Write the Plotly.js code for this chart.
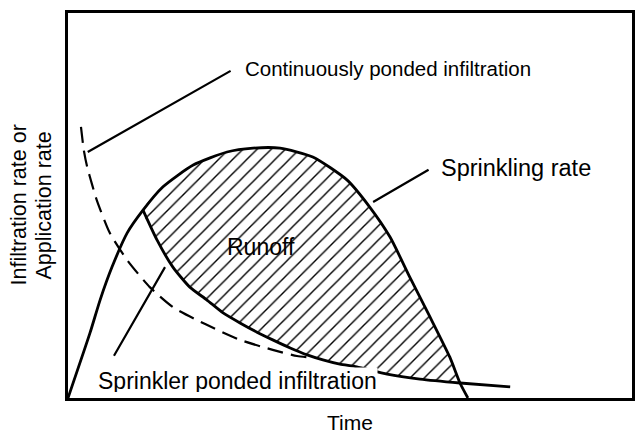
<!DOCTYPE html>
<html>
<head>
<meta charset="utf-8">
<script src="https://cdn.plot.ly/plotly-3.0.1.min.js"></script>
<style>
html,body{margin:0;padding:0;background:#fff;}
#chart{width:635px;height:434px;}
</style>
</head>
<body>
<div id="chart"></div>
<script>
// Schematic values (arbitrary units: time 0-100, rate 0-100)
const sprinklingTime = [0, 3.9, 5.7, 7.8, 10.5, 13.3, 16.8, 22.2, 28.2, 32.8, 37.6, 43.4, 49.5, 53.5, 57.1, 60.6, 64.2, 67.7, 69.5, 70.9];
const sprinklingRate = [0, 16.9, 25.5, 34.0, 42.9, 48.8, 54.8, 60.5, 63.9, 64.9, 64.9, 62.6, 56.6, 49.6, 41.8, 31.4, 21.0, 10.6, 3.9, 0];

const sprinklerPondedTime = [13.3, 15.8, 18.6, 21.6, 24.6, 27.5, 30.5, 33.5, 36.3, 39.4, 42.4, 45.2, 48.2, 51.2, 56.6, 62.4, 69.5, 78.4];
const sprinklerPondedRate = [48.8, 41.0, 34.0, 28.8, 25.5, 22.1, 19.5, 17.1, 15.1, 13.0, 11.2, 9.9, 8.8, 8.1, 6.2, 4.9, 3.9, 2.9];

const continuousPondedTime = [2.3, 2.8, 3.4, 4.3, 5.1, 7.4, 10.5, 14.5, 18.6, 24.6, 30.5, 36.3, 40.6, 42.4];
const continuousPondedRate = [70.4, 64.4, 60.0, 55.3, 51.4, 42.9, 35.8, 28.8, 23.6, 19.0, 15.1, 12.5, 10.9, 10.6];

const labels = {
  continuous: 'Continuously ponded infiltration',
  sprinkling: 'Sprinkling rate',
  runoff: 'Runoff',
  sprinklerPonded: 'Sprinkler ponded infiltration',
  xTitle: 'Time',
  yTitleLines: ['Infiltration rate or', 'Application rate']
};

// Runoff region: between sprinkling rate and sprinkler ponded infiltration
const tStart = sprinklerPondedTime[0];
const tEnd = 69.5;
const upperX = [], upperY = [];
sprinklingTime.forEach((t, i) => { if (t >= tStart && t <= tEnd) { upperX.push(t); upperY.push(sprinklingRate[i]); } });
const lowerX = [], lowerY = [];
sprinklerPondedTime.forEach((t, i) => { if (t <= tEnd) { lowerX.push(t); lowerY.push(sprinklerPondedRate[i]); } });
const runoffX = upperX.concat(lowerX.slice().reverse());
const runoffY = upperY.concat(lowerY.slice().reverse());

const FONT = 'Liberation Sans, Arial, Helvetica, sans-serif';

const traces = [
  {
    x: runoffX, y: runoffY, type: 'scatter', mode: 'lines',
    fill: 'toself', fillcolor: 'white',
    fillpattern: {shape: '/', size: 10, solidity: 0.14, fgcolor: 'black', bgcolor: 'white'},
    line: {width: 0, shape: 'spline', smoothing: 0.6}, hoverinfo: 'skip'
  },
  {
    x: continuousPondedTime, y: continuousPondedRate, type: 'scatter', mode: 'lines',
    line: {color: 'black', width: 2.2, dash: '16px,8px', shape: 'spline', smoothing: 0.6}
  },
  {
    x: sprinklerPondedTime, y: sprinklerPondedRate, type: 'scatter', mode: 'lines',
    line: {color: 'black', width: 2.8, shape: 'spline', smoothing: 0.6}
  },
  {
    x: sprinklingTime, y: sprinklingRate, type: 'scatter', mode: 'lines',
    line: {color: 'black', width: 2.8, shape: 'spline', smoothing: 0.6}
  }
];

function leader(x, y, ax, ay) {
  return {x: x, y: y, ax: ax, ay: ay, xref: 'x', yref: 'y', axref: 'x', ayref: 'y',
    text: '', showarrow: true, arrowhead: 0, arrowwidth: 2.2, arrowcolor: 'black', standoff: 0, startstandoff: 0};
}

function yTitleLine(text, shift) {
  return {x: 0, y: 0.5, xref: 'paper', yref: 'paper', xanchor: 'center', yanchor: 'middle',
    xshift: shift, textangle: -90, showarrow: false, text: text,
    font: {size: 21.5, family: FONT, color: 'black'}};
}

const layout = {
  width: 635, height: 434,
  margin: {l: 68, r: 3, t: 13, b: 36},
  paper_bgcolor: 'white', plot_bgcolor: 'white',
  showlegend: false,
  font: {family: FONT, color: 'black'},
  xaxis: {
    range: [0, 100], showticklabels: false, ticks: '', showgrid: false, zeroline: false,
    showline: true, mirror: true, linecolor: 'black', linewidth: 3,
    title: {text: labels.xTitle, font: {size: 21, family: FONT, color: 'black'}, standoff: 16}
  },
  yaxis: {
    range: [0, 100], showticklabels: false, ticks: '', showgrid: false, zeroline: false,
    showline: true, mirror: true, linecolor: 'black', linewidth: 3
  },
  annotations: [
    yTitleLine(labels.yTitleLines[0], -50),
    yTitleLine(labels.yTitleLines[1], -25),
    leader(3.5, 63.9, 29.1, 85.2),
    leader(54.1, 50.9, 64.2, 59.5),
    leader(17.2, 34.0, 8.0, 10.6),
    {x: 31.0, y: 85.7, xref: 'x', yref: 'y', xanchor: 'left', yanchor: 'middle', showarrow: false,
      text: labels.continuous, font: {size: 20.5, family: FONT, color: 'black'}},
    {x: 65.8, y: 59.7, xref: 'x', yref: 'y', xanchor: 'left', yanchor: 'middle', showarrow: false,
      text: labels.sprinkling, font: {size: 23.5, family: FONT, color: 'black'}},
    {x: 34.2, y: 39.2, xref: 'x', yref: 'y', xanchor: 'center', yanchor: 'middle', showarrow: false,
      text: labels.runoff, font: {size: 23, family: FONT, color: 'black'}},
    {x: 30.1, y: 4.8, xref: 'x', yref: 'y', xanchor: 'center', yanchor: 'middle', showarrow: false,
      text: labels.sprinklerPonded, bgcolor: 'white', borderpad: 0, height: 24, valign: 'top',
      font: {size: 23, family: FONT, color: 'black'}}
  ]
};

Plotly.newPlot('chart', traces, layout, {staticPlot: true, displayModeBar: false});
</script>
</body>
</html>
